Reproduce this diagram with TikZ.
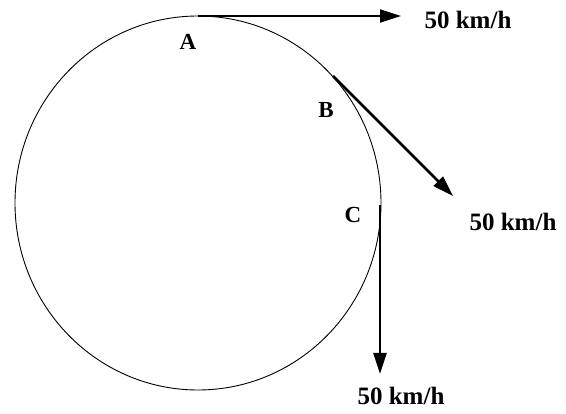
\documentclass[tikz,border=0pt]{standalone}
\usepackage{fontspec}
\setmainfont{Liberation Serif}
\usepackage{tikz}
\usetikzlibrary{arrows.meta,positioning}
\tikzset{
  pointlabel/.style={font=\fontsize{23}{25}\selectfont\bfseries, inner sep=0pt},
  speedlabel/.style={font=\fontsize{25}{27}\selectfont\bfseries, inner sep=0pt},
  velocity/.style={line width=2.6pt, -{Triangle[length=21pt,width=13pt]}},
  track/.style={line width=0.9pt},
}
\begin{document}
\begin{tikzpicture}[x=1pt,y=-1pt]
  \useasboundingbox (0,0) rectangle (566,414);
  % the circular track
  \draw[track] (198,203) ellipse [x radius=183, y radius=187];
  % points on the track
  \node[pointlabel] (A) at (188,42) {A};
  \node[pointlabel] (B) at (326,110) {B};
  \node[pointlabel] (C) at (353,215) {C};
  % speeds
  \node[speedlabel] (vA) at (468,20) {50 km/h};
  \node[speedlabel] (vB) at (513,222) {50 km/h};
  \node[speedlabel] (vC) at (401,396) {50 km/h};
  \coordinate (startA) at (198,16);
  \coordinate (endA) at (401,16);
  \coordinate (startB) at (333,76);
  \coordinate (endB) at (453,196);
  \coordinate (startC) at (380,205);
  \coordinate (endC) at (380,374);
  % velocity arrows
  \draw[velocity,line width=2pt] (startA) -- (endA);
  \draw[velocity] (startB) -- (endB);
  \draw[velocity] (startC) -- (endC);
\end{tikzpicture}
\end{document}
